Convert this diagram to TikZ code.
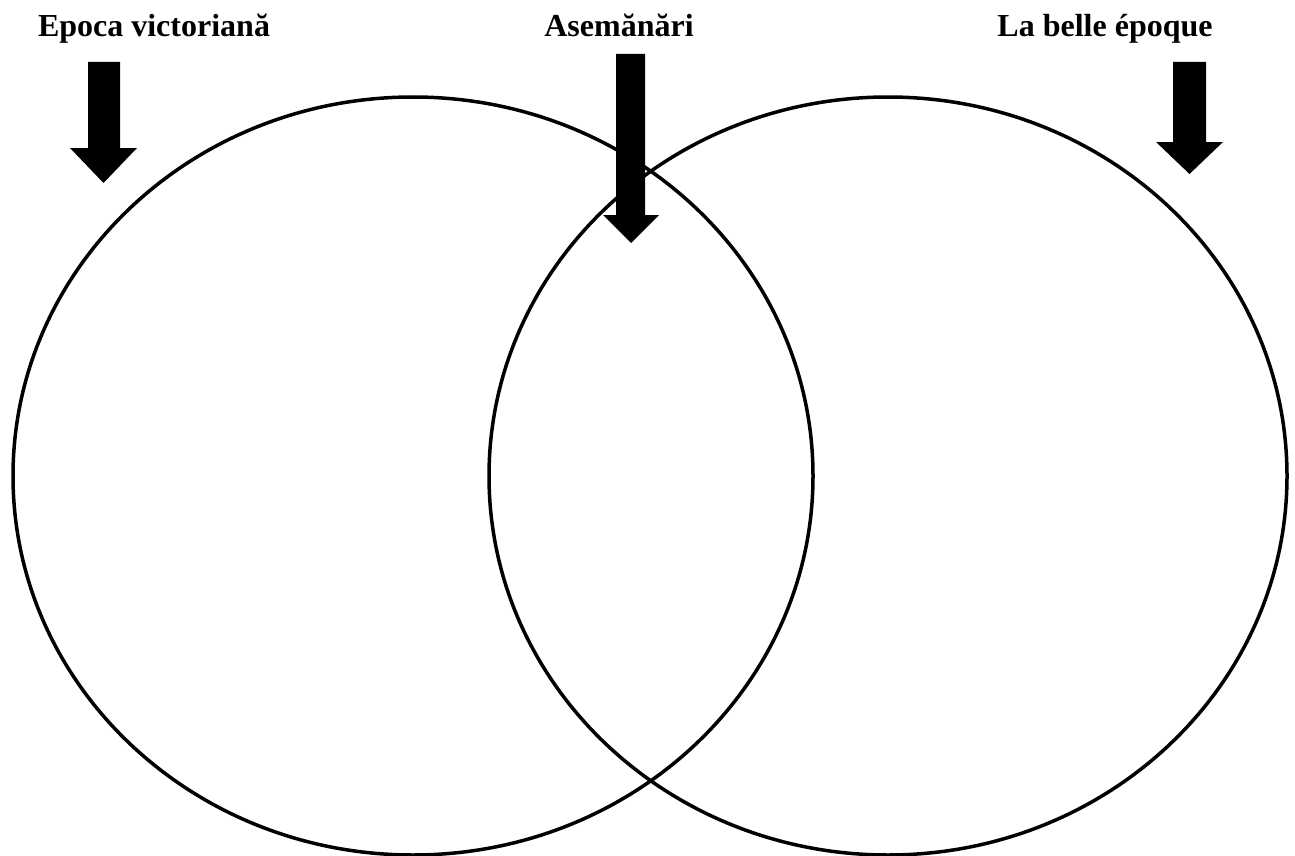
\documentclass[tikz,border=0pt]{standalone}
\usepackage{fontspec}
\setmainfont{Liberation Serif}
\begin{document}
\begin{tikzpicture}[x=1pt,y=-1pt,
  ring/.style={draw=black,line width=3.5pt},
  blockarrow/.style={fill=black,draw=none},
  title/.style={anchor=base,inner sep=0pt,font=\fontsize{32}{38}\selectfont\bfseries}]
\useasboundingbox (0,0) rectangle (1295,856);
\fill[white] (0,0) rectangle (1295,856);
% circles
\path[ring] (413,476) ellipse [x radius=400pt, y radius=379pt];
\path[ring] (888,476) ellipse [x radius=399pt, y radius=379pt];
% titles
\node[title] (t1) at (154,37) {Epoca victoriană};
\node[title] (t2) at (619,37) {Asemănări};
\node[title] (t3) at (1105,37) {La belle époque};
% arrows
\fill[blockarrow] (88,62) -- (120,62) -- (120,148) -- (137,148) -- (103.5,183) -- (70,148) -- (88,148) -- cycle;
\fill[blockarrow] (616,54) -- (645,54) -- (645,215) -- (659,215) -- (631,243) -- (603,215) -- (616,215) -- cycle;
\fill[blockarrow] (1173,62) -- (1206,62) -- (1206,142) -- (1223,142) -- (1189.5,174) -- (1156,142) -- (1173,142) -- cycle;
\end{tikzpicture}
\end{document}
